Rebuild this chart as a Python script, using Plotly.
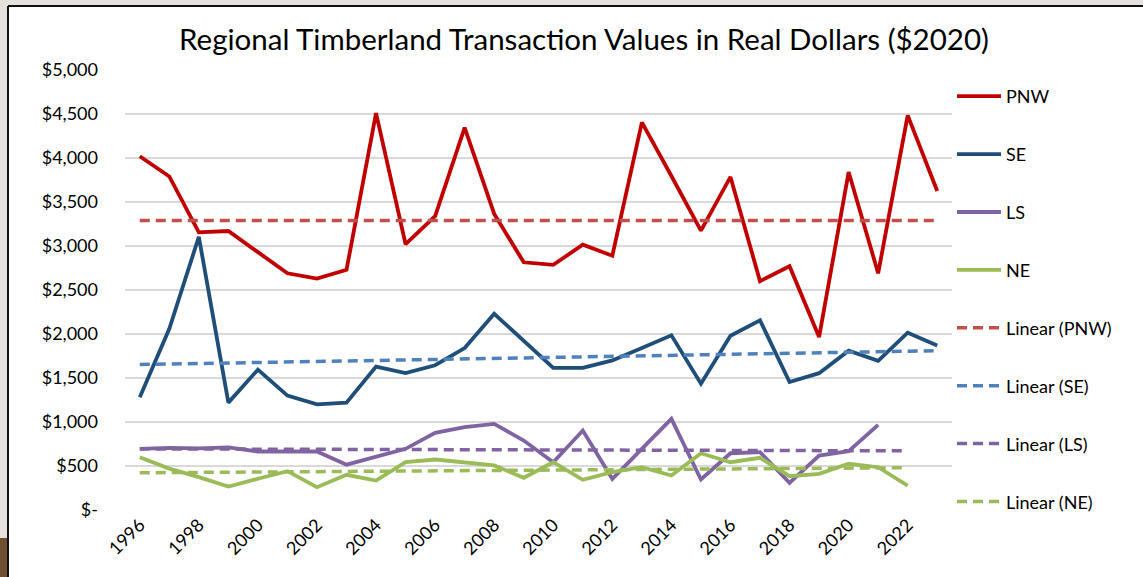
import plotly.graph_objects as go

years = list(range(1996, 2024))

pnw = [4020, 3790, 3155, 3170, 2930, 2690, 2630, 2730, 4510, 3020,
       3340, 4345, 3365, 2815, 2785, 3015, 2890, 4405, 3795, 3175,
       3785, 2600, 2770, 1965, 3840, 2690, 4485, 3625]
se = [1280, 2060, 3105, 1220, 1595, 1300, 1200, 1220, 1630, 1555,
      1645, 1840, 2230, 1925, 1615, 1615, 1700, 1840, 1985, 1435,
      1980, 2155, 1455, 1555, 1810, 1695, 2015, 1870]
ls = [695, 705, 700, 712, 665, 665, 665, 515, 610, 695,
      877, 941, 979, 790, 543, 903, 354, 690, 1036, 347,
      645, 657, 309, 619, 668, 968]
ne = [600, 470, 373, 267, 355, 441, 259, 400, 335, 543,
      574, 543, 506, 366, 543, 343, 430, 486, 392, 645,
      543, 593, 384, 411, 525, 486, 278]

series_names = ["PNW", "SE", "LS", "NE"]
series_values = [pnw, se, ls, ne]
line_colors = ["#C00000", "#1F4E79", "#8064A2", "#9BBB59"]
trend_colors = ["#C0504D", "#4F81BD", "#8064A2", "#9BBB59"]
# trendline endpoint values
trend_start = [3290, 1653, 695, 423]
trend_end = [3290, 1810, 672, 480]
trend_last_year = [2023, 2023, 2022, 2022]

ytick_vals = [0, 500, 1000, 1500, 2000, 2500, 3000, 3500, 4000, 4500, 5000]
ytick_text = ["$-", "$500", "$1,000", "$1,500", "$2,000", "$2,500",
              "$3,000", "$3,500", "$4,000", "$4,500", "$5,000"]
xtick_vals = list(range(1996, 2023, 2))

W, H = 1143, 577
ML, MR, MT, MB = 125, 191, 70, 67
FONT = "Lato"

fig = go.Figure()
for i, (name, vals) in enumerate(zip(series_names, series_values)):
    fig.add_trace(go.Scatter(
        x=years[:len(vals)], y=vals, mode="lines", name=name,
        legendgroup="g%d" % i,
        line=dict(color=line_colors[i], width=3.8)))
for i, name in enumerate(series_names):
    fig.add_trace(go.Scatter(
        x=[1996, trend_last_year[i]], y=[trend_start[i], trend_end[i]],
        mode="lines", name="Linear (%s)" % name,
        legendgroup="t%d" % i,
        line=dict(color=trend_colors[i], width=3.5, dash="10px,6px")))

pw = W - ML - MR
ph = H - MT - MB
def px_x(p):
    return (p - ML) / pw
def px_y(p):
    return 1 - (p - MT) / ph

shapes = [
    dict(type="rect", xref="paper", yref="paper", layer="below",
         x0=px_x(8), x1=px_x(W + 5), y0=px_y(H + 5), y1=px_y(6),
         fillcolor="white", line=dict(width=0)),
    dict(type="line", xref="paper", yref="paper", layer="above",
         x0=px_x(8), x1=px_x(W + 5), y0=px_y(6), y1=px_y(6),
         line=dict(color="#111111", width=2)),
    dict(type="line", xref="paper", yref="paper", layer="above",
         x0=px_x(8), x1=px_x(8), y0=px_y(6), y1=px_y(H + 5),
         line=dict(color="#111111", width=2)),
    dict(type="rect", xref="paper", yref="paper", layer="below",
         x0=px_x(-2), x1=px_x(7), y0=px_y(H + 5), y1=px_y(538),
         fillcolor="#6E5030", line=dict(width=0)),
]

fig.update_layout(
    width=W, height=H,
    margin=dict(l=ML, r=MR, t=MT, b=MB),
    paper_bgcolor="#E5E2DD",
    plot_bgcolor="white",
    font=dict(family=FONT, size=18, color="black"),
    title=dict(text="Regional Timberland Transaction Values in Real Dollars ($2020)",
               x=px_x(584), xref="paper", xanchor="center",
               y=1 - 40 / H, yanchor="middle",
               font=dict(family=FONT, size=29.5, color="black")),
    shapes=shapes,
    showlegend=True,
    legend=dict(x=px_x(952), xanchor="left", y=px_y(78), yanchor="top",
                tracegroupgap=31.5, traceorder="grouped", maxheight=560,
                font=dict(family=FONT, size=18, color="black"),
                bgcolor="rgba(0,0,0,0)", itemwidth=44),
    xaxis=dict(range=[1995.5, 2023.5], tickmode="array", tickvals=xtick_vals,
               ticktext=[str(v) for v in xtick_vals], tickangle=-45,
               showgrid=False, zeroline=False, showline=False, ticks="",
               tickfont=dict(family=FONT, size=18)),
    yaxis=dict(range=[0, 5000], tickmode="array", tickvals=ytick_vals,
               ticktext=ytick_text, showgrid=True, gridcolor="#D9D9D9",
               gridwidth=1.5, zeroline=False, showline=False, ticks="",
               ticklabelstandoff=26, tickfont=dict(family=FONT, size=18)),
)

fig.write_html("out.html", config={"displayModeBar": False},
               post_script="document.body.style.margin='0';document.body.style.overflow='hidden';")
